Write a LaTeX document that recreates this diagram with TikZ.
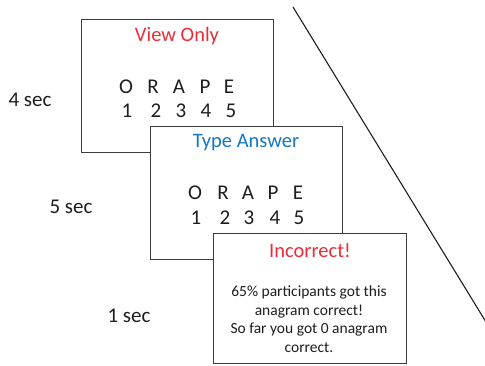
\documentclass[tikz,border=0pt]{standalone}
\usepackage{fontspec}
\setmainfont{Carlito}
\definecolor{redt}{RGB}{236,45,55}
\definecolor{bluet}{RGB}{20,120,195}
\definecolor{txt}{RGB}{30,30,30}
\definecolor{edge}{RGB}{60,60,60}
\begin{document}
\begin{tikzpicture}[x=1pt,y=-1pt,
  card/.style={draw=edge,fill=white,line width=0.9pt},
  title/.style={font=\fontsize{20.5}{24}\selectfont,inner sep=0pt},
  big/.style={font=\fontsize{21}{24}\selectfont,text=txt,inner sep=0pt},
  small/.style={font=\fontsize{15.5}{18.5}\selectfont,text=txt,align=center,inner sep=0pt}]
\useasboundingbox (0,0) rectangle (485,366);
% card 1
\draw[card] (81,19) rectangle (273,152);
\node[title,text=redt] (t1) at (177,36) {View Only};
\foreach \ch/\xx [count=\i] in {O/126,R/153,A/179,P/205,E/229}
  \node[big] (l1\i) at (\xx,87) {\ch};
\foreach \xx [count=\i] in {127,156,181,206,231}
  \node[big] (d1\i) at (\xx,111) {\i};
\node[big] (s1) at (30,100) {4 sec};
% card 2
\draw[card] (150,126) rectangle (342,259);
\node[title,text=bluet] (t2) at (246,143) {Type Answer};
\foreach \ch/\xx [count=\i] in {O/195,R/223,A/248,P/273,E/298}
  \node[big] (l2\i) at (\xx,193) {\ch};
\foreach \xx [count=\i] in {196,225,249,275,299}
  \node[big] (d2\i) at (\xx,218) {\i};
\node[big] (s2) at (71,207) {5 sec};
% card 3
\draw[card] (213,233) rectangle (406,363);
\node[title,text=redt] (t3) at (310,251) {Incorrect!};
\node[small] (b3) at (309,319) {65\% participants got this\\anagram correct!\\So far you got 0 anagram\\correct.};
\node[big] (s3) at (129,316) {1 sec};
% diagonal line
\coordinate (p1) at (293,7);
\coordinate (p2) at (486,322);
\draw[line width=1.1pt,txt] (p1) -- (p2);
\end{tikzpicture}
\end{document}
